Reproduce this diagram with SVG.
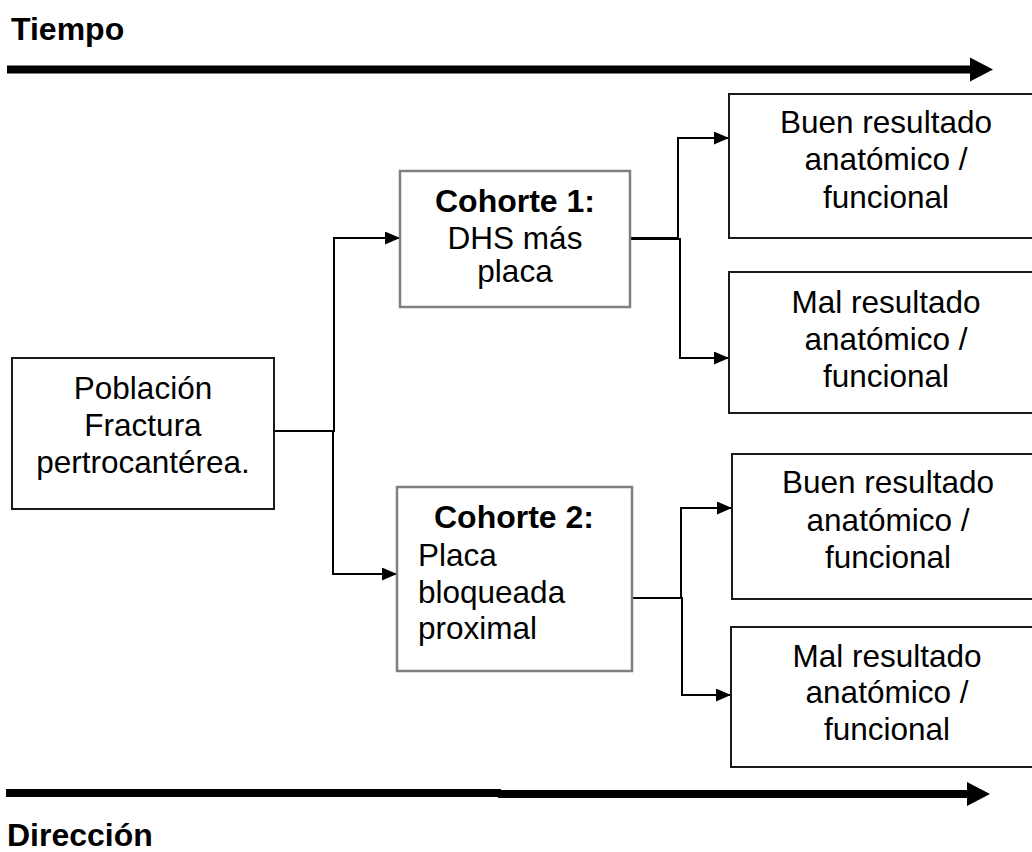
<svg xmlns="http://www.w3.org/2000/svg" width="1032" height="852" viewBox="0 0 1032 852">
<style>
  text { font-family: "Liberation Sans", Arial, sans-serif; font-size: 31.5px; fill: #000; }
  .b { font-weight: bold; font-size: 32px; }
  .c { text-anchor: middle; }
  .box { fill: #fff; stroke: #1a1a1a; stroke-width: 2; }
  .gbox { fill: #fff; stroke: #7f7f7f; stroke-width: 2.5; }
  .conn { fill: none; stroke: #000; stroke-width: 2; }
  .axis { stroke: #000; stroke-width: 8; }
</style>
<defs>
  <marker id="ah" viewBox="0 0 15 13" refX="15" refY="6.5" markerWidth="15" markerHeight="13" markerUnits="userSpaceOnUse" orient="auto">
    <path d="M0,0 L15,6.5 L0,13 Z" fill="#000"/>
  </marker>
</defs>
<rect width="1032" height="852" fill="#fff"/>

<g id="tiempo">
  <text class="b" x="11" y="40">Tiempo</text>
  <line class="axis" x1="7" y1="69.5" x2="972" y2="69.5" stroke-width="7"/>
  <polygon points="970,57.5 993,69.5 970,81.5" fill="#000"/>
</g>

<g id="direccion">
  <line class="axis" x1="6" y1="793" x2="501" y2="793"/>
  <line class="axis" x1="498" y1="794" x2="969" y2="794"/>
  <polygon points="967,782 990,794 967,806" fill="#000"/>
  <text class="b" x="7" y="846">Dirección</text>
</g>

<g id="connectors">
  <path class="conn" d="M274,431 H334 V238 H400" marker-end="url(#ah)"/>
  <path class="conn" d="M274,431 H333 V574 H397" marker-end="url(#ah)"/>
  <path class="conn" d="M630,238 H678 V138 H729" marker-end="url(#ah)"/>
  <path class="conn" d="M630,239 H680 V358 H729" marker-end="url(#ah)"/>
  <path class="conn" d="M629,598 H681 V508 H732" marker-end="url(#ah)"/>
  <path class="conn" d="M629,598 H682 V695 H731" marker-end="url(#ah)"/>
</g>

<g id="poblacion">
  <rect class="box" x="12" y="358" width="262" height="151"/>
  <text class="c" x="143" y="399">Población</text>
  <text class="c" x="143" y="436">Fractura</text>
  <text class="c" x="143" y="473">pertrocantérea.</text>
</g>

<g id="cohorte1">
  <rect class="gbox" x="400" y="171" width="230" height="136"/>
  <text class="b c" x="515" y="212">Cohorte 1:</text>
  <text class="c" x="515" y="249">DHS más</text>
  <text class="c" x="515" y="282">placa</text>
</g>

<g id="cohorte2">
  <rect class="gbox" x="397" y="487" width="235" height="184"/>
  <text class="b c" x="514" y="528">Cohorte 2:</text>
  <text x="418" y="566">Placa</text>
  <text x="418" y="603">bloqueada</text>
  <text x="418" y="639">proximal</text>
</g>

<g id="buen1">
  <rect class="box" x="729" y="94" width="320" height="144"/>
  <text class="c" x="886" y="133">Buen resultado</text>
  <text class="c" x="886" y="170">anatómico /</text>
  <text class="c" x="886" y="208">funcional</text>
</g>

<g id="mal1">
  <rect class="box" x="729" y="272" width="320" height="141"/>
  <text class="c" x="886" y="313">Mal resultado</text>
  <text class="c" x="886" y="350">anatómico /</text>
  <text class="c" x="886" y="387">funcional</text>
</g>

<g id="buen2">
  <rect class="box" x="732" y="454" width="320" height="145"/>
  <text class="c" x="888" y="493">Buen resultado</text>
  <text class="c" x="888" y="531">anatómico /</text>
  <text class="c" x="888" y="568">funcional</text>
</g>

<g id="mal2">
  <rect class="box" x="731" y="627" width="320" height="140"/>
  <text class="c" x="887" y="667">Mal resultado</text>
  <text class="c" x="887" y="703">anatómico /</text>
  <text class="c" x="887" y="740">funcional</text>
</g>
</svg>
